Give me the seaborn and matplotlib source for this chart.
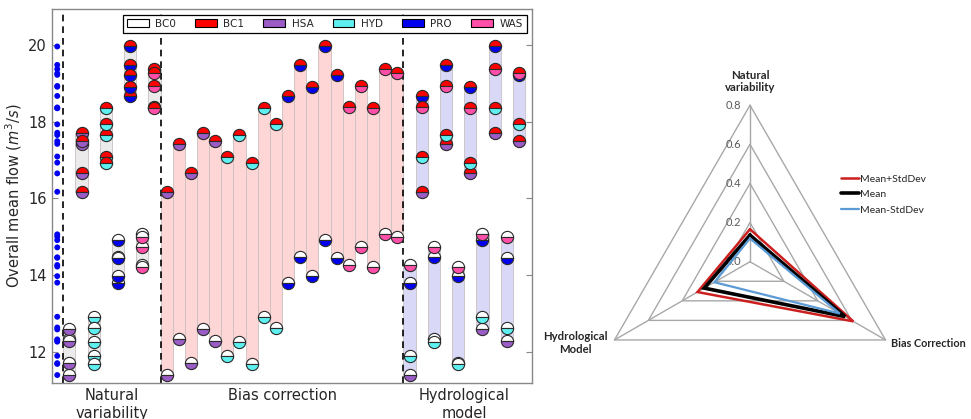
import matplotlib
matplotlib.use('Agg')  # headless
import matplotlib.pyplot as plt
import seaborn as sns
import numpy as np
import pandas as pd
from matplotlib.patches import Patch
from matplotlib.lines import Line2D

# ---- data: overall mean flow (m3/s), 5 climate realisations per combination ----
bc_names = ['BC0', 'BC1']
hm_names = ['HSA', 'HYD', 'PRO', 'WAS']
bc_colors = ['#ffffff', '#ff0000']
hm_colors = ['#9b5cc6', '#5ef0f0', '#0000ee', '#ff4fa8']

bc0_hsa = [11.39, 12.32, 11.70, 12.58, 12.29]
bc1_hsa = [16.17, 17.42, 16.65, 17.71, 17.49]
bc0_hyd = [11.89, 12.26, 11.68, 12.91, 12.63]
bc1_hyd = [17.09, 17.65, 16.93, 18.35, 17.93]
bc0_pro = [13.80, 14.46, 13.97, 14.91, 14.45]
bc1_pro = [18.67, 19.48, 18.91, 19.96, 19.22]
bc0_was = [14.26, 14.72, 14.22, 15.06, 15.00]
bc1_was = [18.37, 18.93, 18.35, 19.37, 19.26]

section_labels = ['Natural\nvariability', 'Bias correction', 'Hydrological\nmodel']

# ---- data: radar of variance fractions ----
radar_labels = ['Natural\nvariability', 'Bias Correction', 'Hydrological\nModel']
radar_plus = [0.166, 0.61, 0.31]
radar_mean = [0.136, 0.561, 0.27]
radar_minus = [0.119, 0.53, 0.21]
radar_levels = [0.0, 0.2, 0.4, 0.6, 0.8]

flows = {
    ('BC0', 'HSA'): bc0_hsa, ('BC1', 'HSA'): bc1_hsa,
    ('BC0', 'HYD'): bc0_hyd, ('BC1', 'HYD'): bc1_hyd,
    ('BC0', 'PRO'): bc0_pro, ('BC1', 'PRO'): bc1_pro,
    ('BC0', 'WAS'): bc0_was, ('BC1', 'WAS'): bc1_was,
}
rows = []
for (bc, hm), vals in flows.items():
    for r, v in enumerate(vals):
        rows.append({'bc': bc, 'hm': hm, 'real': r, 'flow': v})
df = pd.DataFrame(rows)
n_real = df['real'].nunique()

sns.set_style('ticks')
plt.rcParams['font.family'] = ['DejaVu Sans']

fig = plt.figure(figsize=(9.71, 4.19), dpi=100)
ax = fig.add_axes([0.0532, 0.0866, 0.4946, 0.8912])


def draw_column(ax, pos, sub, band):
    lo, hi = sub['flow'].min(), sub['flow'].max()
    ax.bar(pos, hi - lo, bottom=lo, width=1.0, color=band, edgecolor='#c9c0c0',
           linewidth=0.6, zorder=1)
    for _, row in sub.iterrows():
        ax.plot(pos, row['flow'], marker='o', ls='none', ms=8.8, fillstyle='top',
                markerfacecolor=bc_colors[bc_names.index(row['bc'])],
                markerfacecoloralt=hm_colors[hm_names.index(row['hm'])],
                markeredgecolor='#2a2a2a', markeredgewidth=0.8, zorder=3)


# all values at position 0 (small blue dots)
sns.scatterplot(x=np.zeros(len(df)), y=df['flow'], color='#0000ee', s=18,
                edgecolor='none', ax=ax, zorder=3, legend=False)

# natural variability: one column per BC x HM
pos = 1
for hm in hm_names:
    for bc in bc_names:
        draw_column(ax, pos, df[(df.bc == bc) & (df.hm == hm)], '#ebebeb')
        pos += 1
# bias correction: one column per HM x realisation
for hm in hm_names:
    for r in range(n_real):
        draw_column(ax, pos, df[(df.hm == hm) & (df.real == r)], '#ffd6d6')
        pos += 1
# hydrological model: one column per realisation x BC
for r in range(n_real):
    for bc in bc_names:
        draw_column(ax, pos, df[(df.bc == bc) & (df.real == r)], '#d9d9f7')
        pos += 1

n_nv = len(bc_names) * len(hm_names)
n_bc = len(hm_names) * n_real
for xv in [0.5, 0.5 + n_nv, 0.5 + n_nv + n_bc]:
    ax.axvline(xv, color='k', lw=1.2, ls=(0, (4, 3)), zorder=2)

ax.set_xlim(-0.46, 39.07)
ax.set_ylim(11.19, 20.93)
ax.set_xticks([0.5 + n_nv / 2, 0.5 + n_nv + n_bc / 2, 0.5 + n_nv + n_bc + n_bc / 4])
ax.set_xticklabels(section_labels, fontsize=10.5)
ax.tick_params(axis='x', length=0, pad=4)
ax.set_yticks([12, 14, 16, 18, 20])
ax.tick_params(axis='y', direction='in', right=True, length=4, color='#888888',
               labelsize=10.5)
ax.set_ylabel('Overall mean flow ($m^3/s$)', fontsize=10.5, labelpad=3)
for s in ax.spines.values():
    s.set_color('#888888')
    s.set_linewidth(1.0)

handles = [Patch(facecolor=c, edgecolor='k', linewidth=0.8, label=n)
           for n, c in zip(bc_names + hm_names, bc_colors + hm_colors)]
leg = ax.legend(handles=handles, loc='upper right', ncol=6, fontsize=7.5,
                fancybox=False, framealpha=1, edgecolor='k', handlelength=2.1,
                handleheight=0.7, handletextpad=0.6, columnspacing=1.85,
                borderaxespad=0.5, borderpad=0.4)
leg.get_frame().set_linewidth(0.9)

# ---- radar chart ----
ax2 = fig.add_axes([540 / 971, 19 / 419, 431 / 971, 380 / 419])
ax2.set_xlim(-1.0736, 1.130)
ax2.set_ylim(-0.707, 1.2357)
ax2.axis('off')
ang = np.deg2rad([90, -30, 210])
ca, sa = np.cos(ang), np.sin(ang)
grid_c = '#a8a8a8'
for lev in radar_levels[1:]:
    ax2.plot(np.append(lev * ca, lev * ca[0]), np.append(lev * sa, lev * sa[0]),
             color=grid_c, lw=1.0, zorder=1)
rmax = radar_levels[-1]
for c, s in zip(ca, sa):
    ax2.plot([0, rmax * c], [0, rmax * s], color=grid_c, lw=1.0, zorder=1)
for lev in radar_levels:
    ax2.text(-0.045, lev, f'{lev:.1f}', ha='right', va='center', fontsize=8,
             color='#595959', family=['Lato', 'DejaVu Sans'])

series = [(radar_plus, '#cc1f1f', 1.8, 'Mean+StdDev'),
          (radar_mean, 'black', 2.6, 'Mean'),
          (radar_minus, '#5b9bd5', 1.6, 'Mean-StdDev')]
for vals, col, lw, lab in series:
    v = np.array(vals)
    ax2.plot(np.append(v * ca, v[0] * ca[0]), np.append(v * sa, v[0] * sa[0]),
             color=col, lw=lw, zorder=3, solid_joinstyle='miter')

lab_font = dict(fontsize=8.2, fontweight='bold', family=['Lato', 'DejaVu Sans'],
                multialignment='center')
ax2.text(0, 0.921, radar_labels[0], ha='center', va='center', **lab_font)
ax2.text(rmax * ca[1] + 0.03, rmax * sa[1] - 0.016, radar_labels[1], ha='left',
         va='center', fontsize=7.8, fontweight='bold', family=['Lato', 'DejaVu Sans'])
ax2.text(rmax * ca[2] - 0.033, rmax * sa[2] - 0.016, radar_labels[2], ha='right',
         va='center', **lab_font)

rh = [Line2D([], [], color=col, lw=lw, label=lab) for _, col, lw, lab in series]
ax2.legend(handles=rh, loc='upper left', bbox_to_anchor=(836 / 971, 250 / 419),
           bbox_transform=fig.transFigure, frameon=False,
           prop={'family': ['Lato', 'DejaVu Sans'], 'size': 7.5},
           handlelength=1.7, handletextpad=0.1, borderpad=0, labelspacing=0.6)

fig.savefig('out.png', dpi=100)
plt.close(fig)
